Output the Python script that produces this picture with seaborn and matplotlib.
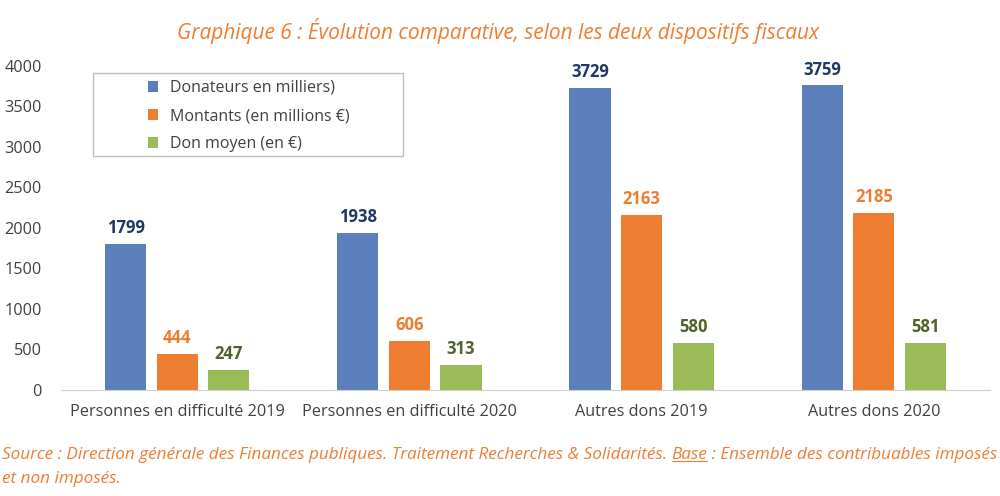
import pandas as pd
import numpy as np
import matplotlib.pyplot as plt
import seaborn as sns

categories = ['Personnes en difficulté 2019', 'Personnes en difficulté 2020',
              'Autres dons 2019', 'Autres dons 2020']
series = ['Donateurs en milliers)', 'Montants (en millions €)', 'Don moyen (en €)']
donateurs = [1799, 1938, 3729, 3759]
montants = [444, 606, 2163, 2185]
don_moyen = [247, 313, 580, 581]

bar_colors = ['#5B7FBA', '#ED7D31', '#9BBB59']
label_colors = ['#1F3864', '#ED7D31', '#4F6228']
orange_txt = '#ED7D31'

df = pd.DataFrame({
    'categorie': categories * 3,
    'serie': [series[0]] * 4 + [series[1]] * 4 + [series[2]] * 4,
    'valeur': donateurs + montants + don_moyen,
})

sns.set_style('white')
plt.rcParams['font.family'] = ['Open Sans', 'DejaVu Sans']

fig = plt.figure(figsize=(10, 4.96), dpi=100)
ax = fig.add_axes([0.061, 0.214, 0.929, 0.653])

sns.barplot(data=df, x='categorie', y='valeur', hue='serie', order=categories,
            hue_order=series, palette=bar_colors, width=0.666, gap=0.2,
            saturation=1, linewidth=0, ax=ax, legend=True)

# value labels above bars
for cont, col in zip(ax.containers, label_colors):
    ax.bar_label(cont, padding=5, color=col, fontsize=12, fontweight='bold')

ax.set_xlim(-0.5, 3.5)
ax.set_ylim(0, 4000)
ax.set_yticks(range(0, 4001, 500))
ax.set_xlabel('')
ax.set_ylabel('')
ax.tick_params(axis='both', labelsize=11.7, colors='#404040', length=0)
ax.tick_params(axis='x', pad=10)
ax.tick_params(axis='y', pad=14)
for s in ['top', 'right', 'left']:
    ax.spines[s].set_visible(False)
ax.spines['bottom'].set_color('#D0D0D0')

# legend without frame, box drawn separately
leg = ax.legend(loc='upper left', bbox_to_anchor=(0.148, 1 - 80 / 496),
                bbox_transform=fig.transFigure, frameon=False,
                fontsize=11.5, handlelength=0.65, handleheight=0.65,
                borderpad=0, labelspacing=0.76, handletextpad=0.75,
                borderaxespad=0)
for t in leg.get_texts():
    t.set_color('#404040')
fig.add_artist(plt.Rectangle((0.093, 1 - 156 / 496), 0.31, 83 / 496,
                             transform=fig.transFigure, fill=False,
                             edgecolor='#BFBFBF', lw=1))

fig.text(0.498, 0.938, 'Graphique 6 : Évolution comparative, selon les deux dispositifs fiscaux',
         ha='center', va='center', color=orange_txt, fontsize=15, style='italic')
fig.text(0.002, 0.082, 'Source : Direction générale des Finances publiques. Traitement Recherches & Solidarités. ',
         ha='left', va='center', color=orange_txt, fontsize=12.3, style='italic')
fig.text(0.002, 0.035, 'et non imposés.', ha='left', va='center', color=orange_txt,
         fontsize=12.3, style='italic')

fig.canvas.draw()
t1 = fig.texts[1]
bb = t1.get_window_extent()
x0 = bb.x1 / fig.bbox.width
t2 = fig.text(x0, 0.082, 'Base', ha='left', va='center', color=orange_txt, fontsize=12.3, style='italic')
fig.canvas.draw()
bb2 = t2.get_window_extent()
fig.add_artist(plt.Line2D([bb2.x0 / fig.bbox.width, bb2.x1 / fig.bbox.width],
                          [bb2.y0 / fig.bbox.height + 0.004] * 2, color=orange_txt, lw=0.8))
fig.text(bb2.x1 / fig.bbox.width, 0.082, ' : Ensemble des contribuables imposés',
         ha='left', va='center', color=orange_txt, fontsize=12.3, style='italic')

fig.savefig('out.png', dpi=100)
